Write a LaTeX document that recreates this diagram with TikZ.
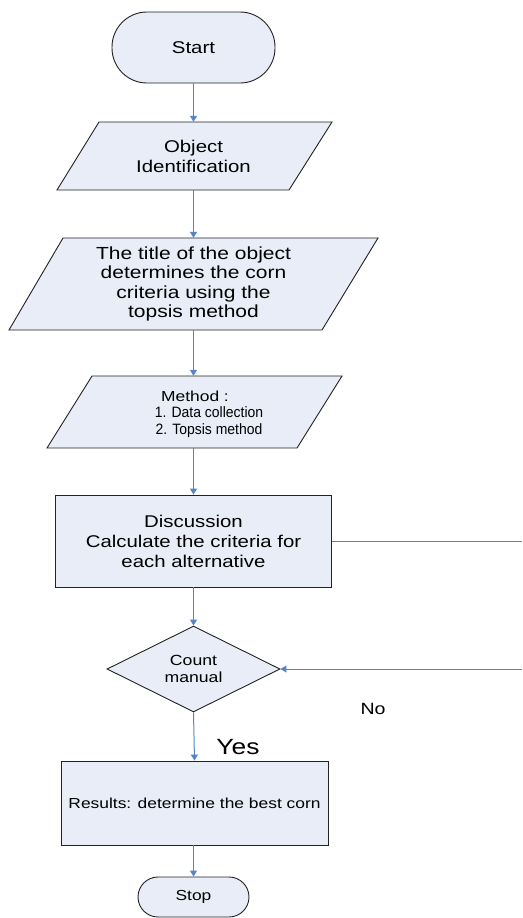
\documentclass[tikz,border=0pt]{standalone}
\usepackage{fontspec}
\setmainfont{Liberation Sans}
\newfontfamily\widefont[FakeStretch=1.2]{Liberation Sans}
\newfontfamily\narrowfont[FakeStretch=0.93]{Liberation Sans}
\usetikzlibrary{arrows.meta,shapes.geometric}
\definecolor{shapefill}{HTML}{E8EDF7}
\definecolor{lineblue}{HTML}{5585C8}
\definecolor{edge}{HTML}{222222}
\begin{document}
\begin{tikzpicture}[x=1pt,y=-1pt,
  shapestyle/.style={fill=shapefill,draw=edge,line width=0.9pt},
  hold/.style={rectangle,inner sep=0pt,align=center},
  conn/.style={draw=lineblue,line width=1pt,-{Triangle[width=7pt,length=6pt]}},
  plainline/.style={draw=lineblue,line width=1pt},
  fA/.style={font={\widefont\fontsize{17}{20}\selectfont}},
  fB/.style={font={\widefont\fontsize{17.5}{19.6}\selectfont}},
  fC/.style={font={\widefont\fontsize{14.7}{17.7}\selectfont}},
  fD/.style={font={\widefont\fontsize{14.5}{17}\selectfont}},
  fM/.style={font={\narrowfont\fontsize{15}{16.7}\selectfont}},
]
\useasboundingbox (0,0) rectangle (522,918);
\fill[white] (0,0) rectangle (522,918);

% Start
\node[shapestyle,hold,rounded corners=35pt,minimum width=163pt,minimum height=71pt,fA] (start) at (193.5,47.5) {Start};

% Object identification parallelogram
\filldraw[shapestyle] (99,122) -- (332,122) -- (289,190) -- (57,190) -- cycle;
\node[hold,minimum width=180pt,minimum height=68pt,fA] (p1) at (193.5,156) {Object\\Identification};

% Title parallelogram
\filldraw[shapestyle] (63,238) -- (378,238) -- (322,330) -- (9,330) -- cycle;
\node[hold,minimum width=240pt,minimum height=92pt,fB] (p2) at (193.5,284) {The title of the object\\determines the corn\\criteria using the\\topsis method};

% Method parallelogram
\filldraw[shapestyle] (92,376) -- (342,376) -- (297,448) -- (47,448) -- cycle;
\node[hold,minimum width=180pt,minimum height=72pt] (p3) at (193.5,412) {};
\node[hold,fM] (p3text) at (209,414) {{\widefont\fontsize{14.5}{16.7}\selectfont Method :}\hspace*{28pt}\\1. Data collection\\2. Topsis method};

% Discussion
\node[shapestyle,hold,minimum width=276pt,minimum height=92pt,fA] (disc) at (193.5,541) {Discussion\\Calculate the criteria for\\each alternative};

% Decision
\node[shapestyle,diamond,inner sep=0pt,minimum width=173pt,minimum height=84pt,align=center,fC] (dia) at (193.5,669) {Count\\manual};

% Results
\node[shapestyle,hold,minimum width=267pt,minimum height=84pt,fD] (res) at (194.5,803) {Results: determine the best corn};

% Stop
\node[shapestyle,hold,rounded corners=20pt,minimum width=111pt,minimum height=40pt,fD] (stop) at (193.5,897) {Stop};

% Labels
\node[anchor=base,inner sep=0pt,font={\widefont\fontsize{22}{26}\selectfont}] (yes) at (238,754) {Yes};
\node[anchor=base,inner sep=0pt,font={\widefont\fontsize{16.3}{19}\selectfont}] (no) at (373,714) {No};

% Free ends at right edge
\coordinate (r1) at (522,541);
\coordinate (r2) at (522,669);

% Connectors
\draw[conn] (start.south) -- (p1.north);
\draw[conn] (p1.south) -- (p2.north);
\draw[conn] (p2.south) -- (p3.north);
\draw[conn] (p3.south) -- (disc.north);
\draw[conn] (disc.south) -- (dia.north);
\draw[conn] (dia.south) -- (res.south |- res.north);
\draw[conn] (res.south -| stop.north) -- (stop.north);
\draw[plainline] (disc.east) -- (r1);
\draw[conn] (r2) -- (dia.east);
\end{tikzpicture}
\end{document}
